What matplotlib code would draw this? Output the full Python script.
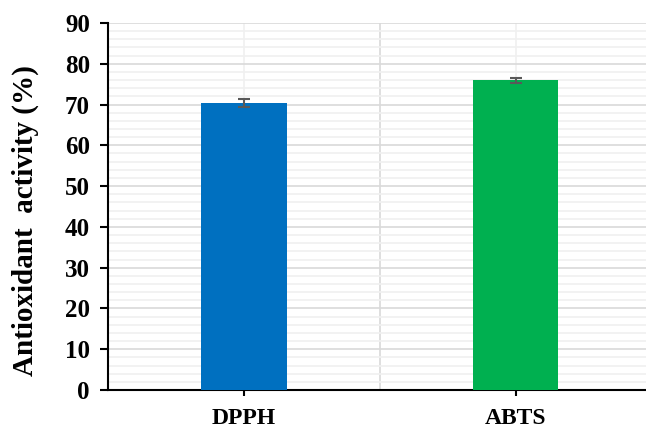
import matplotlib
matplotlib.use("Agg")
import matplotlib.pyplot as plt
from matplotlib.ticker import MultipleLocator, FixedLocator

categories = ["DPPH", "ABTS"]
values = [70.4, 76.0]
errors = [1.0, 0.6]
colors = ["#0070C0", "#00B050"]
yticks = list(range(0, 91, 10))

plt.rcParams['font.family'] = ['Liberation Serif', 'DejaVu Serif']
plt.rcParams['font.weight'] = 'bold'

fig = plt.figure(figsize=(6.46, 4.29), dpi=100)
ax = fig.add_axes([0.1672, 0.0909, 0.8328, 0.8555])

x = list(range(len(categories)))
ax.bar(x, values, width=0.315, color=colors, zorder=3,
       yerr=errors, capsize=4, error_kw=dict(ecolor="#595959", elinewidth=1.5, capthick=1.5, zorder=4))

ax.set_xlim(-0.5, 1.48)
ax.set_ylim(0, 90)
ax.set_yticks(yticks)
ax.yaxis.set_minor_locator(MultipleLocator(2))
ax.set_xticks(x)
ax.set_xticklabels(categories)
ax.xaxis.set_minor_locator(FixedLocator([0.5]))

ax.grid(which='major', axis='y', color='#d9d9d9', linewidth=1.2, zorder=0)
ax.grid(which='minor', axis='y', color='#f0f0f0', linewidth=1.2, zorder=0)
ax.grid(which='major', axis='x', color='#f0f0f0', linewidth=1.2, zorder=0)
ax.grid(which='minor', axis='x', color='#d9d9d9', linewidth=1.2, zorder=0)
ax.set_axisbelow(True)

for s in ['top', 'right']:
    ax.spines[s].set_visible(False)
ax.spines['left'].set_linewidth(1.5)
ax.spines['bottom'].set_linewidth(1.5)

ax.tick_params(axis='y', which='major', length=6, width=1.5, labelsize=18, pad=7)
ax.tick_params(axis='y', which='minor', length=0)
ax.tick_params(axis='x', which='major', length=4, width=1.5, labelsize=17, pad=9)
ax.tick_params(axis='x', which='minor', length=0)
for lab in ax.get_xticklabels() + ax.get_yticklabels():
    lab.set_fontweight('bold')

ax.set_ylabel("Antioxidant  activity (%)", fontsize=21, fontweight='bold')
ax.yaxis.set_label_coords(-0.129, 0.463)

fig.savefig("out.png", dpi=100)
